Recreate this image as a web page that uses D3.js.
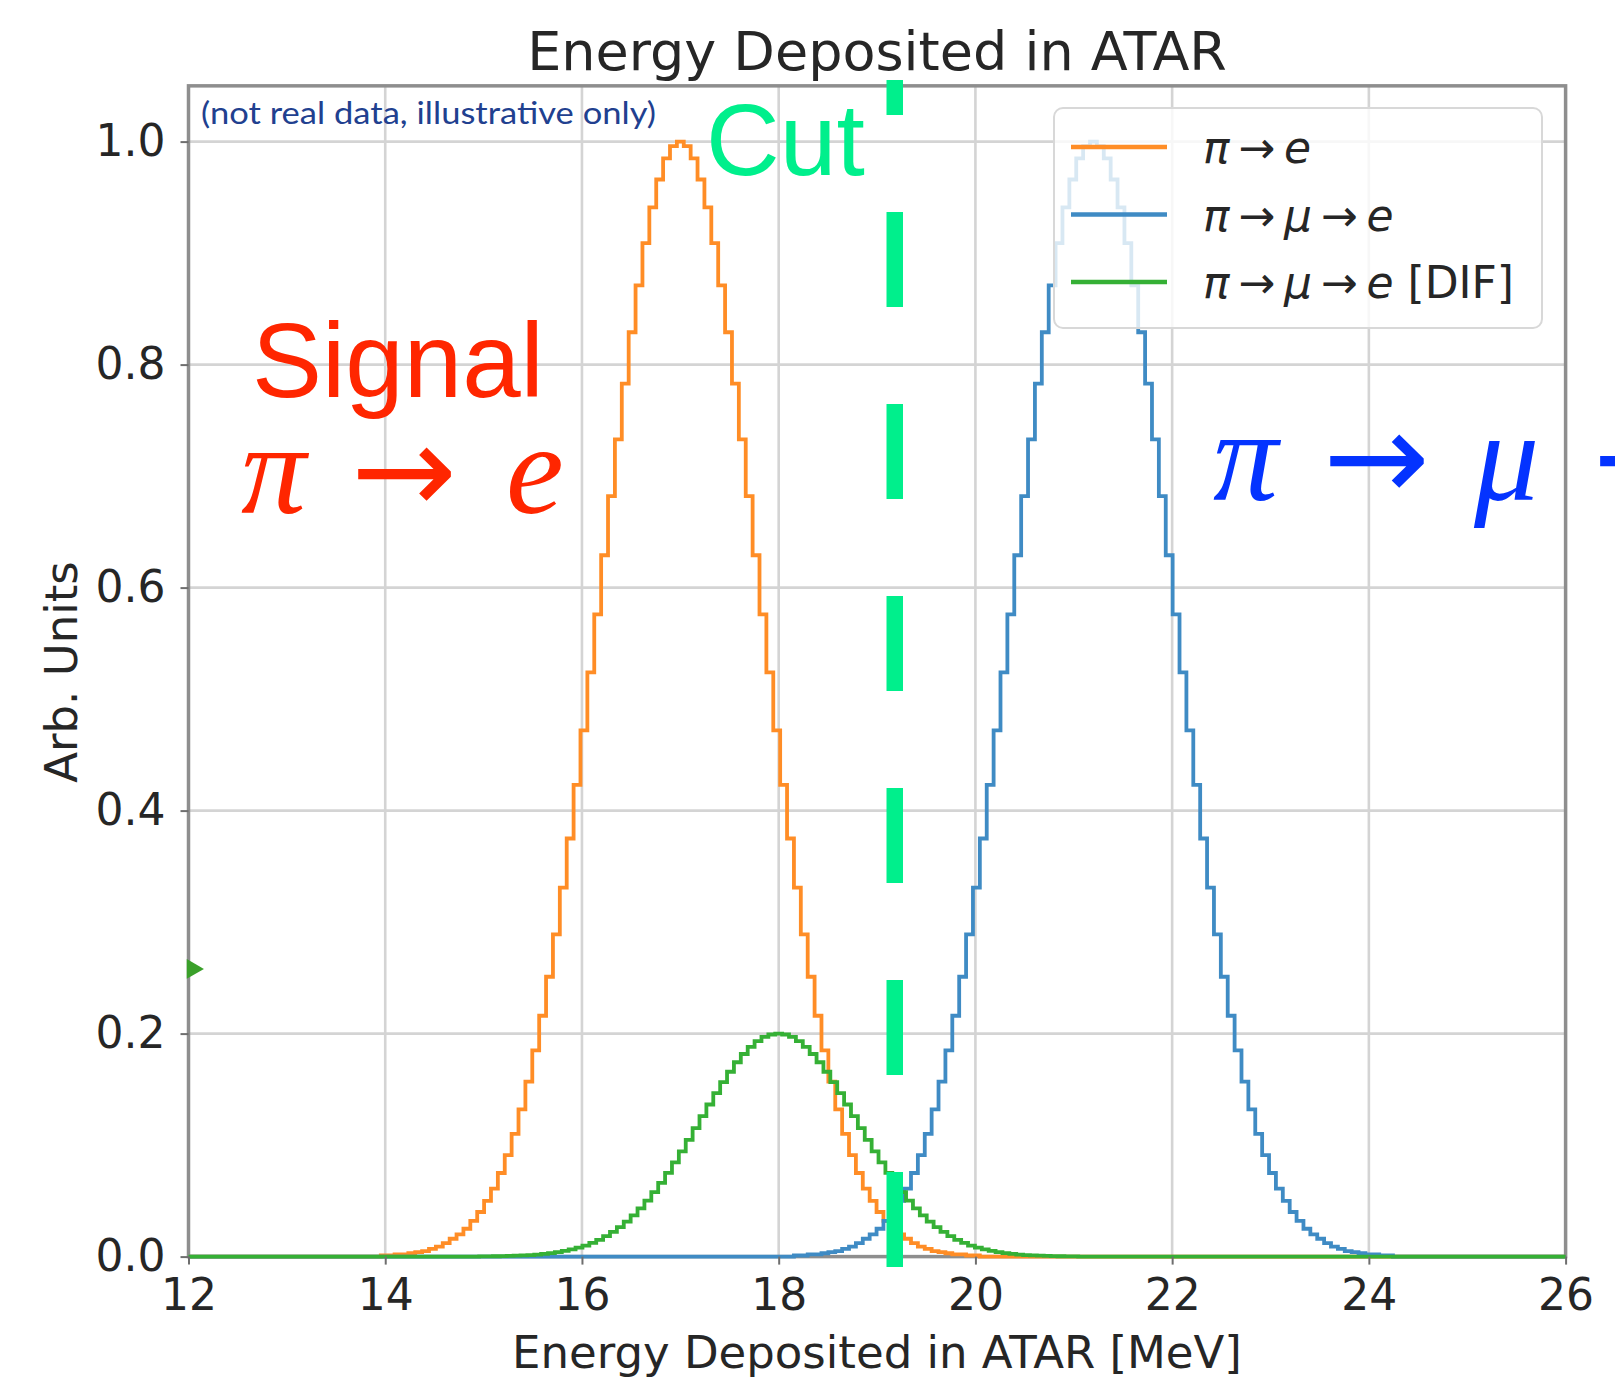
<!DOCTYPE html>
<html>
<head>
<meta charset="utf-8">
<script src="https://cdn.jsdelivr.net/npm/d3@7"></script>
<style>body{margin:0;background:#fff}</style>
</head>
<body>
<svg id="c" width="1615" height="1396"></svg>
<script>
// ---------- data ----------
const xTicks = [12, 14, 16, 18, 20, 22, 24, 26];
const yTicks = [0.0, 0.2, 0.4, 0.6, 0.8, 1.0];
const binWidth = 0.07;

// pi -> e (signal), first bin centred at 13.99
const orangeStart = 13.99;
const orangeValues = [0.001,0.001,0.002,0.002,0.003,0.004,0.005,0.007,0.009,0.012,0.016,0.020,0.025,0.032,0.040,0.050,0.061,0.075,0.091,0.110,0.132,0.157,0.185,0.216,0.251,0.289,0.331,0.375,0.423,0.472,0.524,0.576,0.629,0.682,0.733,0.783,0.829,0.871,0.909,0.941,0.966,0.985,0.996,1.000,0.996,0.985,0.966,0.941,0.909,0.871,0.829,0.783,0.733,0.682,0.629,0.576,0.524,0.472,0.423,0.375,0.331,0.289,0.251,0.216,0.185,0.157,0.132,0.110,0.091,0.075,0.061,0.050,0.040,0.032,0.025,0.020,0.016,0.012,0.009,0.007,0.005,0.004,0.003,0.002,0.002,0.001,0.001];

// pi -> mu -> e, first bin centred at 18.19
const blueStart = 18.19;
const blueValues = [0.001,0.001,0.002,0.002,0.003,0.004,0.005,0.007,0.009,0.012,0.016,0.020,0.025,0.032,0.040,0.050,0.061,0.075,0.091,0.110,0.132,0.157,0.185,0.216,0.251,0.289,0.331,0.375,0.423,0.472,0.524,0.576,0.629,0.682,0.733,0.783,0.829,0.871,0.909,0.941,0.966,0.985,0.996,1.000,0.996,0.985,0.966,0.941,0.909,0.871,0.829,0.783,0.733,0.682,0.629,0.576,0.524,0.472,0.423,0.375,0.331,0.289,0.251,0.216,0.185,0.157,0.132,0.110,0.091,0.075,0.061,0.050,0.040,0.032,0.025,0.020,0.016,0.012,0.009,0.007,0.005,0.004,0.003,0.002,0.002,0.001,0.001];

// pi -> mu -> e [DIF], first bin centred at 14.99
const greenStart = 14.99;
const greenValues = [0.0002,0.0002,0.0003,0.0004,0.0006,0.0008,0.0011,0.0014,0.0018,0.0024,0.0031,0.0040,0.0051,0.0064,0.0080,0.0099,0.0123,0.0150,0.0183,0.0221,0.0264,0.0314,0.0370,0.0433,0.0502,0.0579,0.0662,0.0751,0.0845,0.0944,0.1047,0.1152,0.1259,0.1364,0.1467,0.1565,0.1658,0.1743,0.1817,0.1881,0.1932,0.1970,0.1992,0.2000,0.1992,0.1970,0.1932,0.1881,0.1817,0.1743,0.1658,0.1565,0.1467,0.1364,0.1259,0.1152,0.1047,0.0944,0.0845,0.0751,0.0662,0.0579,0.0502,0.0433,0.0370,0.0314,0.0264,0.0221,0.0183,0.0150,0.0123,0.0099,0.0080,0.0064,0.0051,0.0040,0.0031,0.0024,0.0018,0.0014,0.0011,0.0008,0.0006,0.0004,0.0003,0.0002,0.0002];

const cutValue = 19.18;
const markerValue = 0.258;

// ---------- drawing ----------
const svg = d3.select("#c");
svg.append("rect").attr("width", 1615).attr("height", 1396).attr("fill", "#fff");

const x = d3.scaleLinear().domain([12, 26]).range([188.5, 1565.6]);
const y = d3.scaleLinear().domain([0, 1.05]).range([1256.6, 85.85]);

// grid
const grid = svg.append("g");
grid.selectAll("line.gx").data(xTicks).join("line")
  .attr("x1", d => x(d)).attr("x2", d => x(d))
  .attr("y1", y(0)).attr("y2", y(1.05))
  .attr("stroke", "#d4d4d4").attr("stroke-width", 2.6);
grid.selectAll("line.gy").data(yTicks).join("line")
  .attr("x1", x(12)).attr("x2", x(26))
  .attr("y1", d => y(d)).attr("y2", d => y(d))
  .attr("stroke", "#d4d4d4").attr("stroke-width", 2.6);

// spines
svg.append("rect")
  .attr("x", x(12)).attr("y", y(1.05))
  .attr("width", x(26) - x(12)).attr("height", y(0) - y(1.05))
  .attr("fill", "none").attr("stroke", "#8e8e8e").attr("stroke-width", 3.5);

// histograms
function stepPoints(start, values) {
  const pts = [[12, 0]];
  const left0 = start - binWidth / 2;
  pts.push([left0, 0]);
  values.forEach((v, i) => {
    const l = left0 + i * binWidth;
    pts.push([l, v]);
    pts.push([l + binWidth, v]);
  });
  pts.push([left0 + values.length * binWidth, 0]);
  pts.push([26, 0]);
  return pts;
}
const line = d3.line().x(d => x(d[0])).y(d => y(d[1]));
const histos = [
  {start: orangeStart, values: orangeValues, color: "#ff8d26"},
  {start: blueStart, values: blueValues, color: "#3f8bc4"},
  {start: greenStart, values: greenValues, color: "#35b035"}
];
svg.append("g").selectAll("path").data(histos).join("path")
  .attr("d", d => line(stepPoints(d.start, d.values)))
  .attr("fill", "none").attr("stroke", d => d.color)
  .attr("stroke-width", 3.8).attr("stroke-linejoin", "miter");

// axes
const font = "'DejaVu Sans', sans-serif";
const gx = svg.append("g").attr("transform", `translate(0,${y(0)})`)
  .call(d3.axisBottom(x).tickValues(xTicks).tickSize(8).tickPadding(14).tickFormat(d3.format("d")));
const gy = svg.append("g").attr("transform", `translate(${x(12)},0)`)
  .call(d3.axisLeft(y).tickValues(yTicks).tickSize(8).tickPadding(15).tickFormat(d3.format(".1f")));
[gx, gy].forEach(g => {
  g.select(".domain").remove();
  g.selectAll(".tick line").attr("stroke", "#6e6e6e").attr("stroke-width", 2);
  g.selectAll(".tick text").attr("fill", "#262626").style("font-family", font).style("font-size", "44px");
});

// green marker on left spine
svg.append("path")
  .attr("d", d3.symbol(d3.symbolTriangle, 170)())
  .attr("transform", `translate(${x(12) + 4},${y(markerValue)}) rotate(90)`)
  .attr("fill", "#3aa02a");

// titles
svg.append("text").attr("x", 877).attr("y", 70).attr("text-anchor", "middle")
  .style("font-family", font).style("font-size", "54px").attr("fill", "#262626")
  .text("Energy Deposited in ATAR");
svg.append("text").attr("x", 877).attr("y", 1368).attr("text-anchor", "middle")
  .style("font-family", font).style("font-size", "45px").attr("fill", "#262626")
  .text("Energy Deposited in ATAR [MeV]");
svg.append("text").attr("transform", "translate(77,672) rotate(-90)").attr("text-anchor", "middle")
  .style("font-family", font).style("font-size", "45px").attr("fill", "#262626")
  .text("Arb. Units");

// annotation
svg.append("text").attr("x", 201).attr("y", 124)
  .attr("textLength", 455).attr("lengthAdjust", "spacingAndGlyphs")
  .style("font-family", "Lato, 'Open Sans', sans-serif").style("font-size", "31px")
  .attr("fill", "#21408f").text("(not real data, illustrative only)");

// legend
const legendItems = [
  {color: "#ff8d26", parts: [["π", true], ["\u2009→\u2009", false], ["e", true]]},
  {color: "#3f8bc4", parts: [["π", true], ["\u2009→\u2009", false], ["μ", true], ["\u2009→\u2009", false], ["e", true]]},
  {color: "#35b035", parts: [["π", true], ["\u2009→\u2009", false], ["μ", true], ["\u2009→\u2009", false], ["e", true], [" [DIF]", false]]}
];
const lg = svg.append("g");
lg.append("rect").attr("x", 1054).attr("y", 108).attr("width", 488).attr("height", 220).attr("rx", 9)
  .attr("fill", "#fff").attr("fill-opacity", 0.8).attr("stroke", "#d8d8d8").attr("stroke-width", 2);
legendItems.forEach((it, i) => {
  const ly = 147 + i * 67.5;
  lg.append("line").attr("x1", 1071).attr("x2", 1167).attr("y1", ly).attr("y2", ly)
    .attr("stroke", it.color).attr("stroke-width", 4.5);
  const t = lg.append("text").attr("x", 1203).attr("y", ly + 16)
    .style("font-family", font).style("font-size", "44px").attr("fill", "#262626");
  it.parts.forEach(p => t.append("tspan").style("font-style", p[1] ? "italic" : "normal").text(p[0]));
});

// cut line
svg.append("line").attr("x1", x(cutValue)).attr("x2", x(cutValue)).attr("y1", 1267).attr("y2", 80)
  .attr("stroke", "#00ef8c").attr("stroke-width", 16.5).attr("stroke-dasharray", "95 97");
svg.append("text").attr("x", 706).attr("y", 175)
  .style("font-family", "'Liberation Sans', Arial, sans-serif").style("font-size", "102px")
  .attr("fill", "#00ef8c").text("Cut");

// signal annotation
const red = "#ff2600";
svg.append("text").attr("x", 252).attr("y", 397)
  .style("font-family", "'Liberation Sans', Arial, sans-serif").style("font-size", "105px")
  .attr("fill", red).text("Signal");
const serif = "'Liberation Serif', 'DejaVu Serif', serif";
function mathText(xp, yp, str, color) {
  return svg.append("text").attr("x", xp).attr("y", yp)
    .style("font-family", serif).style("font-size", "130px").style("font-style", "italic")
    .attr("fill", color).text(str);
}
function arrowText(xp, yp, len, color) {
  return svg.append("text").attr("x", xp).attr("y", yp)
    .attr("textLength", len).attr("lengthAdjust", "spacingAndGlyphs")
    .style("font-family", "'DejaVu Sans', sans-serif").style("font-size", "124px")
    .attr("fill", color).text("→");
}
mathText(241, 513, "π", red);
arrowText(351, 513, 106, red);
mathText(506, 513, "e", red);

const blue = "#0433ff";
mathText(1213, 500, "π", blue);
arrowText(1323, 500, 107, blue);
mathText(1474, 500, "μ", blue);
arrowText(1593, 500, 105, blue);
</script>
</body>
</html>
